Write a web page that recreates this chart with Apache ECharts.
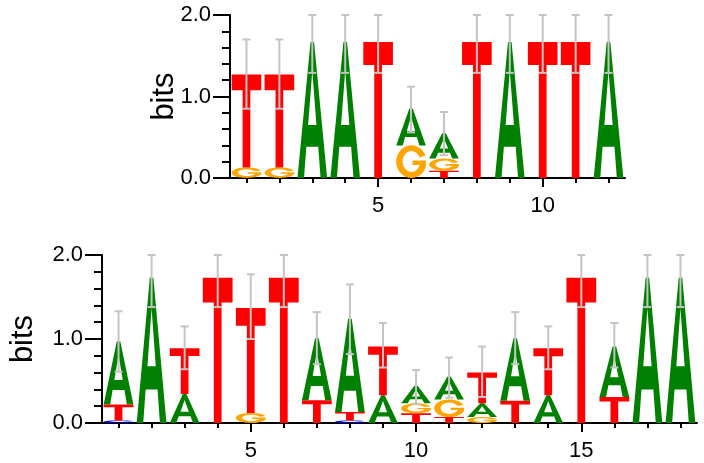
<!DOCTYPE html>
<html>
<head>
<meta charset="utf-8">
<script src="https://cdn.jsdelivr.net/npm/echarts@6/dist/echarts.min.js"></script>
<style>
html,body{margin:0;padding:0;background:#fff;}
#chart{width:704px;height:463px;}
</style>
</head>
<body>
<div id="chart"></div>
<script>
// ---- Data: top logo (12 positions) ----
const topPositions = ['1','2','3','4','5','6','7','8','9','10','11','12'];
const topA = [0, 0, 1.67, 1.67, 0, 0.45, 0.31, 0, 1.67, 0, 0, 1.67];
const topC = [0, 0, 0, 0, 0, 0, 0, 0, 0, 0, 0, 0];
const topG = [0.13, 0.13, 0, 0, 0, 0.40, 0.15, 0, 0, 0, 0, 0];
const topT = [1.14, 1.14, 0, 0, 1.67, 0, 0.09, 1.67, 0, 1.67, 1.67, 0];
const topErrLow  = [0.85, 0.85, 1.29, 1.29, 1.29, 0.56, 0.28, 1.29, 1.29, 1.29, 1.29, 1.29];
const topErrHigh = [1.70, 1.70, 2.0, 2.0, 2.0, 1.12, 0.81, 2.0, 2.0, 2.0, 2.0, 2.0];

// ---- Data: bottom logo (18 positions) ----
const botPositions = ['1','2','3','4','5','6','7','8','9','10','11','12','13','14','15','16','17','18'];
const botA = [0.75, 1.73, 0.345, 0, 0, 0, 0.74, 1.11, 0.33, 0.205, 0.27, 0.165, 0.745, 0.33, 0, 0.60, 1.73, 1.73];
const botC = [0.03, 0, 0, 0, 0, 0, 0, 0.03, 0, 0, 0, 0, 0, 0, 0, 0, 0, 0];
const botG = [0, 0, 0, 0, 0.12, 0, 0, 0, 0, 0.12, 0.21, 0.07, 0, 0, 0, 0, 0, 0];
const botT = [0.19, 0, 0.545, 1.73, 1.25, 1.73, 0.27, 0.10, 0.58, 0.115, 0.07, 0.365, 0.265, 0.56, 1.73, 0.31, 0, 0];
const botErrLow  = [0.61, 1.38, 0.64, 1.38, 1.00, 1.38, 0.70, 0.82, 0.66, 0.23, 0.30, 0.31, 0.70, 0.64, 1.38, 0.66, 1.38, 1.38];
const botErrHigh = [1.33, 2.0, 1.15, 2.0, 1.77, 2.0, 1.32, 1.65, 1.19, 0.63, 0.78, 0.91, 1.32, 1.15, 2.0, 1.19, 2.0, 2.0];

const yTicks = ['0.0', '1.0', '2.0'];

// ---- Glyphs & styles ----
const PATHS = {
  A: 'M0 100 L44 0 L56 0 L100 100 L78 100 L70 77 L30 77 L22 100 Z M36 61 L64 61 L50 21 Z',
  T: 'M0 0 L100 0 L100 17 L63 17 L63 100 L37 100 L37 17 L0 17 Z',
  G: 'M94.8 32 A48 50 0 1 0 96 66 L96 47 L54 47 L54 61 L76.5 61 A28 32 0 1 1 76 38 Z',
  C: 'M94.8 32 A48 50 0 1 0 94.8 68 L76 62 A28 32 0 1 1 76 38 Z'
};
const COLORS = { A: '#008000', C: '#0000ff', G: '#ffa500', T: '#ff0000' };
const ERR = '#c4c4c4';
const FONT = 'Liberation Sans';

function makeRender(letters, errLow, errHigh) {
  return function (params, api) {
    const i = params.dataIndex;
    const band = api.size([1, 0])[0];
    const cx = api.coord([i, 0])[0];
    const w = band * 0.9;
    const items = ['A', 'C', 'G', 'T']
      .map(L => ({ L: L, h: letters[L][i] }))
      .filter(d => d.h > 0)
      .sort((a, b) => a.h - b.h);
    let cum = 0;
    const children = [];
    items.forEach(d => {
      const yb = api.coord([i, cum])[1];
      const yt = api.coord([i, cum + d.h])[1];
      cum += d.h;
      children.push({
        type: 'path',
        shape: { pathData: PATHS[d.L], layout: 'cover', x: cx - w / 2, y: yt, width: w, height: yb - yt },
        style: { fill: COLORS[d.L] }
      });
    });
    const yl = api.coord([i, errLow[i]])[1];
    const yh = api.coord([i, errHigh[i]])[1];
    const cap = 4;
    children.push({ type: 'line', shape: { x1: cx, y1: yl, x2: cx, y2: yh }, style: { stroke: ERR, lineWidth: 2 } });
    children.push({ type: 'line', shape: { x1: cx - cap, y1: yl, x2: cx + cap, y2: yl }, style: { stroke: ERR, lineWidth: 2 } });
    children.push({ type: 'line', shape: { x1: cx - cap, y1: yh, x2: cx + cap, y2: yh }, style: { stroke: ERR, lineWidth: 2 } });
    return { type: 'group', children: children };
  };
}

function mainX(grid, cats) {
  return {
    type: 'category', gridIndex: grid, data: cats, boundaryGap: true, position: 'bottom',
    axisLine: { show: true, lineStyle: { color: '#000', width: 2 } },
    axisTick: { show: true, alignWithLabel: true, interval: 0, length: 5, lineStyle: { color: '#000', width: 2 } },
    axisLabel: { interval: 0, margin: 17, fontSize: 22, color: '#000', fontFamily: FONT,
      formatter: v => (Number(v) % 5 === 0 ? v : '') },
    splitLine: { show: false }
  };
}
function majorX(grid, cats) {
  return {
    type: 'category', gridIndex: grid, data: cats, boundaryGap: true, position: 'bottom',
    axisLine: { show: false },
    axisTick: { show: true, alignWithLabel: true, interval: (idx) => (idx + 1) % 5 === 0, length: 9, lineStyle: { color: '#000', width: 2 } },
    axisLabel: { show: false },
    splitLine: { show: false }
  };
}
function mainY(grid, gap) {
  return {
    type: 'value', gridIndex: grid, min: 0, max: 2, interval: 1,
    name: 'bits', nameLocation: 'middle', nameGap: gap, nameMoveOverlap: false,
    nameTextStyle: { fontSize: 31, color: '#000', fontFamily: FONT },
    axisLine: { show: true, lineStyle: { color: '#000', width: 2 } },
    axisTick: { show: true, length: 17, lineStyle: { color: '#000', width: 2 } },
    minorTick: { show: true, splitNumber: 5, length: 8, lineStyle: { color: '#000', width: 2 } },
    axisLabel: { margin: 19, fontSize: 22, color: '#000', fontFamily: FONT,
      formatter: v => yTicks[Math.round(v)] },
    splitLine: { show: false }, minorSplitLine: { show: false }
  };
}

const chart = echarts.init(document.getElementById('chart'), null, { renderer: 'canvas' });
chart.setOption({
  animation: false,
  backgroundColor: '#fff',
  textStyle: { fontFamily: FONT },
  grid: [
    { left: 230, top: 15, width: 395, height: 163 },
    { left: 89, top: 255, width: 608, height: 168 }
  ],
  xAxis: [mainX(0, topPositions), majorX(0, topPositions), mainX(1, botPositions), majorX(1, botPositions)],
  yAxis: [mainY(0, 50), mainY(1, 63)],
  series: [
    {
      type: 'custom', xAxisIndex: 0, yAxisIndex: 0, clip: false,
      renderItem: makeRender({ A: topA, C: topC, G: topG, T: topT }, topErrLow, topErrHigh),
      encode: { x: 0, y: 1 },
      data: topPositions.map((p, i) => [i, topA[i] + topC[i] + topG[i] + topT[i]])
    },
    {
      type: 'custom', xAxisIndex: 2, yAxisIndex: 1, clip: false,
      renderItem: makeRender({ A: botA, C: botC, G: botG, T: botT }, botErrLow, botErrHigh),
      encode: { x: 0, y: 1 },
      data: botPositions.map((p, i) => [i, botA[i] + botC[i] + botG[i] + botT[i]])
    }
  ]
});
</script>
</body>
</html>
